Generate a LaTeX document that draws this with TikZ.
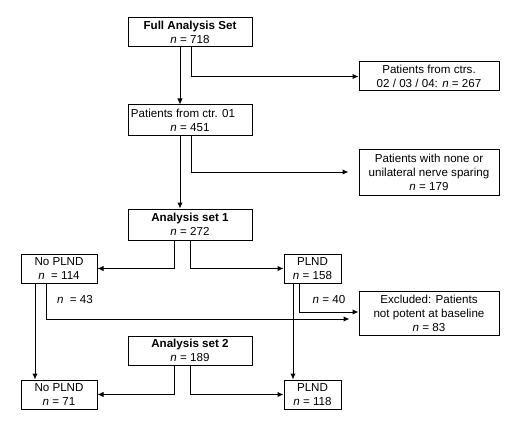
\documentclass[tikz,border=0pt]{standalone}
\usepackage{fontspec}
\setmainfont{Liberation Sans}
\usetikzlibrary{arrows.meta}
\tikzset{
  box/.style={draw, line width=1pt, inner sep=0pt, align=center,
    font=\fontsize{11.6}{14}\selectfont},
  arr/.style={-{Latex[length=6pt,width=5.5pt]}, line width=1pt}
}
\begin{document}
\begin{tikzpicture}[x=1pt,y=-1pt]
      \useasboundingbox (0,0) rectangle (520,428);
      \draw
        (190,32.5) node[box, minimum width=124pt, minimum height=29pt] (fas){\textbf{Full Analysis Set}\\ \textit{n} = 718}
        (429,76.5) node[box, minimum width=140pt, minimum height=29pt] (ctrs){Patients from ctrs.\\ 02 / 03 / 04: \textit{n} = 267}
        (190,120) node[box, minimum width=124pt, minimum height=30pt] (ctr){Patients from ctr. 01\hspace*{14pt}\\ \textit{n} = 451}
        (429,172) node[box, minimum width=140pt, minimum height=46pt] (nerve){Patients with none or\\ unilateral nerve sparing\\ \textit{n} = 179}
        (190,224.5) node[box, minimum width=124pt, minimum height=31pt] (asone){\textbf{Analysis set 1}\\ \textit{n} = 272}
        (59,268.5) node[box, minimum width=76pt, minimum height=29pt] (nopl){No PLND\\ \textit{n}\ \ = 114}
        (312.5,268.5) node[box, minimum width=57pt, minimum height=29pt] (pl){PLND\\ \textit{n} = 158}
        (429,313.5) node[box, minimum width=140pt, minimum height=44pt] (exc){Excluded: Patients\\ not potent at baseline\\ \textit{n} = 83}
        (190,350.5) node[box, minimum width=124pt, minimum height=29pt] (astwo){\textbf{Analysis set 2}\\ \textit{n} = 189}
        (59,394.5) node[box, minimum width=76pt, minimum height=29pt] (noplb){No PLND\\ \textit{n} = 71}
        (312.5,394.5) node[box, minimum width=57pt, minimum height=29pt] (plb){PLND\\ \textit{n} = 118};
      \node[font=\fontsize{11.6}{14}\selectfont] (nfortythree) at (75,300) {\textit{n}\ \ = 43};
      \node[font=\fontsize{11.6}{14}\selectfont] (nforty) at (329,300) {\textit{n} = 40};
      \begin{scope}[arr]
        \draw ([xshift=-10pt]fas.south) to ([xshift=-10pt]ctr.north);
        \draw ([xshift=1pt]fas.south) |- (ctrs.west);
        \draw ([xshift=-10pt]ctr.south) to ([xshift=-10pt]asone.north);
        \draw[shorten >=10pt] ([xshift=1pt]ctr.south) |- (nerve.west);
        \draw ([xshift=-16pt]asone.south) |- (nopl.east);
        \draw (asone.south) |- (pl.west);
        \draw ([xshift=-24pt]nopl.south) to ([xshift=-24pt]noplb.north);
        \draw[shorten >=9pt] ([xshift=-13pt]nopl.south) |- ([yshift=-5.5pt]exc.west);
        \draw ([xshift=-19.5pt]pl.south) to ([xshift=-19.5pt]plb.north);
        \draw ([xshift=-13.5pt]pl.south) |- ([yshift=1.5pt]exc.west);
        \draw ([xshift=-16pt]astwo.south) |- (noplb.east);
        \draw (astwo.south) |- (plb.west);
      \end{scope}
    \end{tikzpicture}
\end{document}
